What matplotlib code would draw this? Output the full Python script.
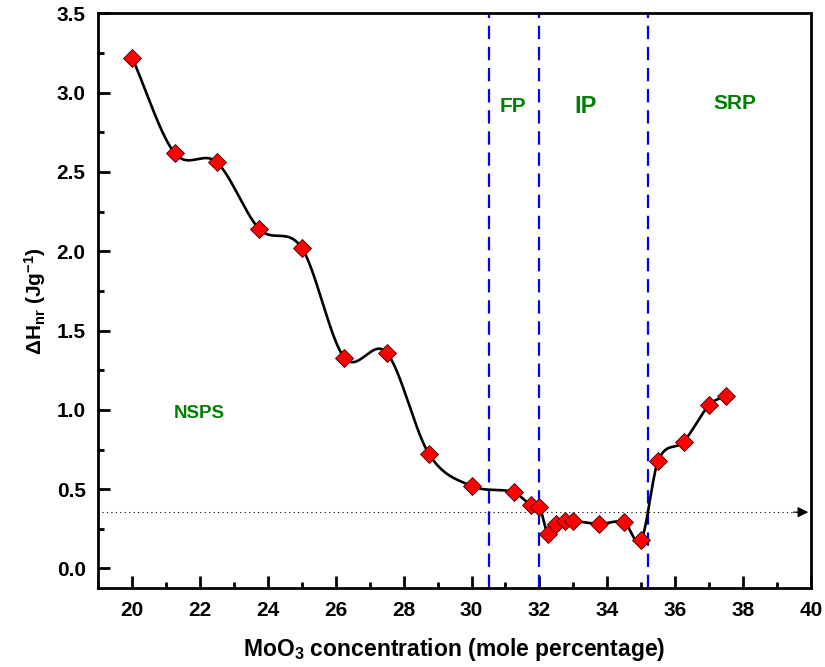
import numpy as np
import matplotlib
matplotlib.use("Agg")
import matplotlib.pyplot as plt

plt.rcParams['font.family'] = ['Liberation Sans', 'DejaVu Sans']
plt.rcParams['font.weight'] = 'bold'
plt.rcParams['mathtext.fontset'] = 'custom'
plt.rcParams['mathtext.rm'] = 'Liberation Sans:bold'
plt.rcParams['mathtext.bf'] = 'Liberation Sans:bold'
plt.rcParams['mathtext.default'] = 'bf'

# data
moo3 = [20.0, 21.25, 22.5, 23.75, 25.0, 26.25, 27.5, 28.75, 30.0, 31.25,
        31.75, 32.0, 32.25, 32.5, 32.75, 33.0, 33.75, 34.5, 35.0, 35.5,
        36.25, 37.0, 37.5]
dh_nr = [3.22, 2.62, 2.56, 2.14, 2.02, 1.33, 1.36, 0.72, 0.52, 0.48,
         0.40, 0.39, 0.22, 0.28, 0.30, 0.30, 0.28, 0.29, 0.18, 0.68,
         0.80, 1.03, 1.09]
phase_bounds = [30.5, 32.0, 35.2]
threshold = 0.355
regions = ['NSPS', 'FP', 'IP', 'SRP']
region_x = [21.97, 31.22, 33.35, 37.77]
region_y = [0.98, 2.91, 2.91, 2.93]
region_size = [13.5, 15, 17, 15]


def smooth_curve(x, y, n=2000):
    # cubic Hermite with Catmull-Rom style tangents
    x = np.asarray(x, float)
    y = np.asarray(y, float)
    k = len(x)
    m = np.zeros(k)
    m[0] = (y[1] - y[0]) / (x[1] - x[0])
    m[-1] = (y[-1] - y[-2]) / (x[-1] - x[-2])
    for i in range(1, k - 1):
        m[i] = (y[i + 1] - y[i - 1]) / (x[i + 1] - x[i - 1])
    xs = np.linspace(x[0], x[-1], n)
    idx = np.clip(np.searchsorted(x, xs) - 1, 0, k - 2)
    h = x[idx + 1] - x[idx]
    t = (xs - x[idx]) / h
    h00 = 2 * t**3 - 3 * t**2 + 1
    h10 = t**3 - 2 * t**2 + t
    h01 = -2 * t**3 + 3 * t**2
    h11 = t**3 - t**2
    ys = h00 * y[idx] + h10 * h * m[idx] + h01 * y[idx + 1] + h11 * h * m[idx + 1]
    return xs, ys


fig = plt.figure(figsize=(8.25, 6.67), dpi=100)
ax = fig.add_axes([0.119, 0.118, 0.864, 0.862])

xs, ys = smooth_curve(moo3, dh_nr)
ax.plot(xs, ys, color='black', lw=1.9, zorder=3)
ax.plot(moo3, dh_nr, linestyle='none', marker='D', markersize=9,
        markerfacecolor='red', markeredgecolor='#400000', markeredgewidth=0.6,
        zorder=4)

for xb in phase_bounds:
    ax.axvline(xb, color='blue', lw=1.6, linestyle=(0, (6, 3.5)), zorder=2)

ax.plot([19.1, 39.6], [threshold, threshold], color='black', lw=0.8,
        linestyle=(0, (1, 3)), zorder=2)
ax.annotate('', xy=(40.0, threshold), xytext=(39.4, threshold),
            arrowprops=dict(arrowstyle='-|>', color='black', lw=0.8,
                            mutation_scale=16), zorder=2)

for name, tx, ty, fs in zip(regions, region_x, region_y, region_size):
    ax.text(tx, ty, name, color='#008000', fontsize=fs, fontweight='bold',
            ha='center', va='center')

ax.set_xlim(19, 40)
ax.set_ylim(-0.125, 3.5)
ax.set_xticks(np.arange(20, 41, 2))
ax.set_xticks(np.arange(19, 41, 1), minor=True)
ax.set_yticks(np.arange(0, 3.51, 0.5))
ax.set_yticks(np.arange(0, 3.51, 0.25), minor=True)
ax.set_yticklabels([f'{v:.1f}' for v in np.arange(0, 3.51, 0.5)])
ax.tick_params(which='both', direction='in', top=False, right=False,
               labelsize=15, width=2, pad=9)
ax.tick_params(which='major', length=8.5)
ax.tick_params(which='minor', length=4.3)
for sp in ax.spines.values():
    sp.set_linewidth(2)

ax.set_xlabel('MoO$_3$ concentration (mole percentage)',
              fontsize=16.5, fontweight='bold', labelpad=12)
ax.set_ylabel('$\\Delta$H$_{nr}$ (Jg$^{-1}$)',
              fontsize=15, fontweight='bold', labelpad=6)

fig.savefig('out.png', dpi=100)
